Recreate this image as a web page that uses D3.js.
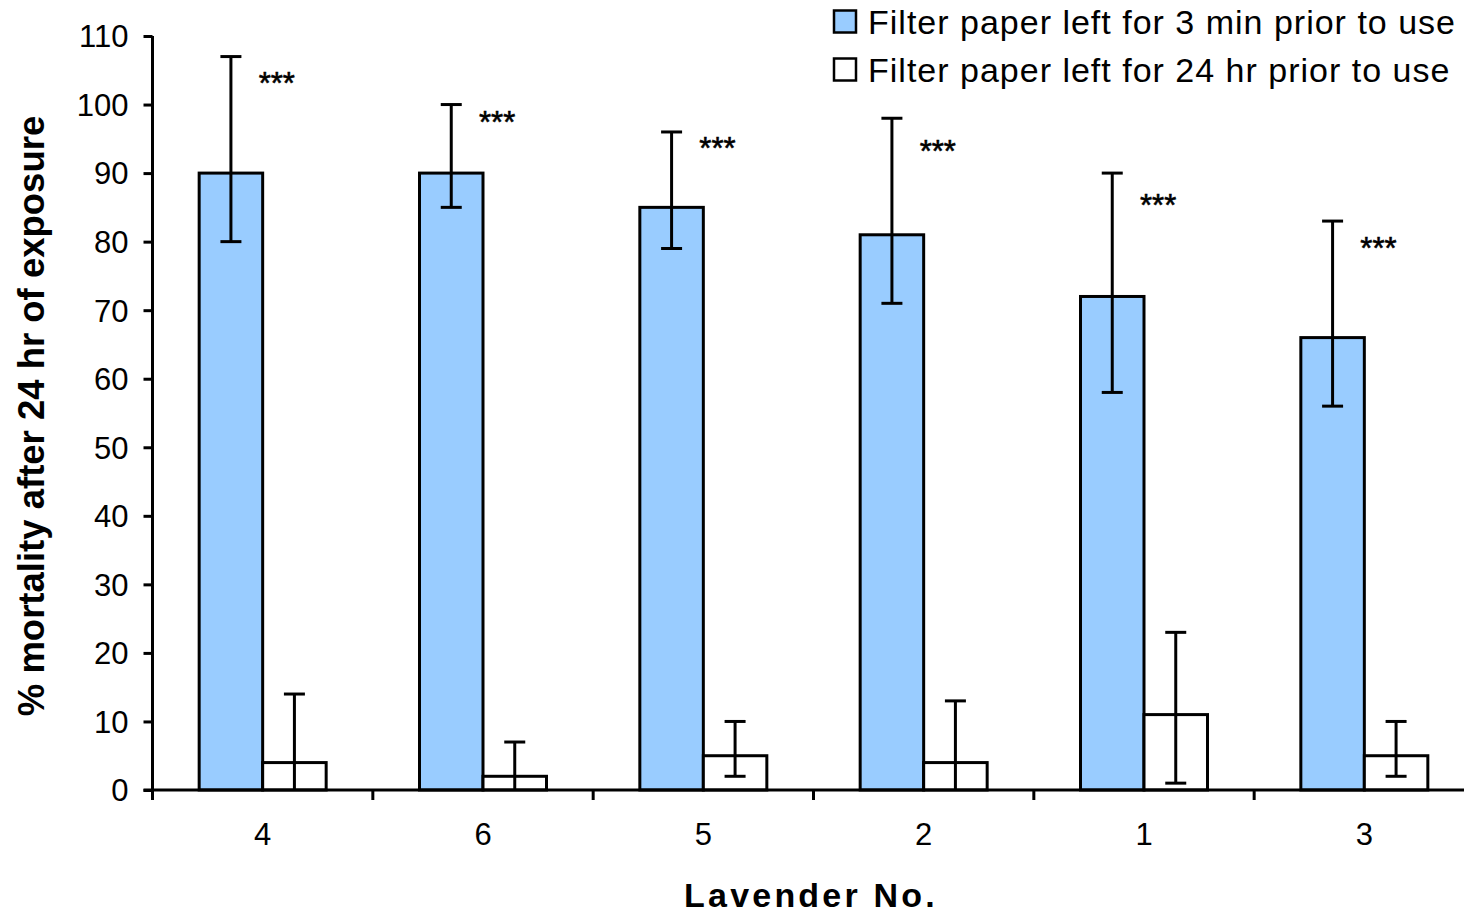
<!DOCTYPE html>
<html>
<head>
<meta charset="utf-8">
<script src="https://cdn.jsdelivr.net/npm/d3@7"></script>
<style>
  html, body { margin: 0; padding: 0; background: #fff; }
  svg { display: block; font-family: "Liberation Sans", Arial, sans-serif; }
</style>
</head>
<body>
<svg id="chart" width="1464" height="913"></svg>
<script>
// ---- data ----
const categories = ["4", "6", "5", "2", "1", "3"];
const seriesNames = ["Filter paper left for 3 min prior to use", "Filter paper left for 24 hr prior to use"];
const mean3min = [90, 90, 85, 81, 72, 66];
const low3min = [80, 85, 79, 71, 58, 56];
const high3min = [107, 100, 96, 98, 90, 83];
const mean24hr = [4, 2, 5, 4, 11, 5];
const low24hr = [-6, -3, 2, -5, 1, 2];
const high24hr = [14, 7, 10, 13, 23, 10];
const significance = ["***", "***", "***", "***", "***", "***"];
const sigLevel = [104, 98.4, 94.6, 94.2, 86.2, 80.0];
const yTicks = [0, 10, 20, 30, 40, 50, 60, 70, 80, 90, 100, 110];
const colors = ["#99CCFF", "#FFFFFF"];

// ---- layout ----
const svg = d3.select("#chart");
const plotLeft = 152.5, plotRight = 1474.5, plotTop = 36, plotBottom = 790;
const SW = 3;

const x = d3.scaleBand().domain(categories).range([plotLeft, plotRight]).paddingInner(0).paddingOuter(0);
const y = d3.scaleLinear().domain([0, 110]).range([plotBottom, plotTop]);
const groupW = 127;
const barW = groupW / 2;

const series = [
  { name: seriesNames[0], mean: mean3min, low: low3min, high: high3min, color: colors[0] },
  { name: seriesNames[1], mean: mean24hr, low: low24hr, high: high24hr, color: colors[1] }
];

// bars
series.forEach((s, si) => {
  const g = svg.append("g");
  g.selectAll("rect").data(categories).enter().append("rect")
    .attr("x", (c) => x(c) + (x.bandwidth() - groupW) / 2 + si * barW)
    .attr("y", (c, i) => y(s.mean[i]))
    .attr("width", barW)
    .attr("height", (c, i) => y(0) - y(s.mean[i]))
    .attr("fill", s.color)
    .attr("stroke", "#000")
    .attr("stroke-width", SW);
});

// error bars
const capHalf = 10.5;
series.forEach((s, si) => {
  const g = svg.append("g").attr("stroke", "#000").attr("stroke-width", SW);
  categories.forEach((c, i) => {
    const cx = x(c) + (x.bandwidth() - groupW) / 2 + si * barW + barW / 2;
    const lo = Math.max(0, s.low[i]);
    g.append("line").attr("x1", cx).attr("x2", cx).attr("y1", y(lo)).attr("y2", y(s.high[i]));
    g.append("line").attr("x1", cx - capHalf).attr("x2", cx + capHalf).attr("y1", y(s.high[i])).attr("y2", y(s.high[i]));
    if (s.low[i] >= 0) {
      g.append("line").attr("x1", cx - capHalf).attr("x2", cx + capHalf).attr("y1", y(s.low[i])).attr("y2", y(s.low[i]));
    }
  });
});

// significance stars
const starFs = 31;
svg.append("g").selectAll("text").data(categories).enter().append("text")
  .attr("x", (c) => x(c) + x.bandwidth() / 2 - 4)
  .attr("y", (c, i) => y(sigLevel[i]) + 0.56 * starFs)
  .attr("font-size", starFs)
  .attr("fill", "#000")
  .attr("stroke", "#000").attr("stroke-width", 0.6)
  .text((c, i) => significance[i]);

// y axis
const yAxis = d3.axisLeft(y).tickValues(yTicks).tickSize(9).tickSizeOuter(0).tickPadding(15);
const gy = svg.append("g").attr("transform", `translate(${plotLeft},0)`).call(yAxis);
gy.select(".domain").attr("stroke", "#000").attr("stroke-width", SW).attr("d", `M0,${plotTop}V${plotBottom + 10}`);
gy.selectAll(".tick line").attr("stroke", "#000").attr("stroke-width", SW);
gy.selectAll(".tick text").attr("font-size", 31).attr("font-family", "Liberation Sans, Arial, sans-serif").attr("fill", "#000").attr("dy", "0.35em");

// x axis (labels) + boundary ticks
const xAxis = d3.axisBottom(x).tickSize(0).tickPadding(0).tickSizeOuter(0);
const gx = svg.append("g").attr("transform", `translate(0,${plotBottom})`).call(xAxis);
gx.select(".domain").attr("stroke", "#000").attr("stroke-width", SW).attr("d", `M${plotLeft - 9},0H${plotRight}`);
gx.selectAll(".tick text").attr("font-size", 31).attr("font-family", "Liberation Sans, Arial, sans-serif")
  .attr("fill", "#000").attr("dy", null).attr("y", 55);
const boundaries = categories.map((c) => x(c)).concat([x.range()[1]]);
gx.append("g").selectAll("line").data(boundaries).enter().append("line")
  .attr("x1", (d) => d).attr("x2", (d) => d).attr("y1", 0).attr("y2", 10)
  .attr("stroke", "#000").attr("stroke-width", SW);

// axis titles
svg.append("text")
  .attr("transform", `translate(44,416) rotate(-90)`)
  .attr("text-anchor", "middle")
  .attr("font-size", 36.5).attr("font-weight", "bold").attr("fill", "#000")
  .text("% mortality after 24 hr of exposure");
svg.append("text")
  .attr("x", 811).attr("y", 907)
  .attr("text-anchor", "middle")
  .attr("font-size", 34).attr("font-weight", "bold").attr("letter-spacing", 3.2).attr("fill", "#000")
  .text("Lavender No.");

// legend
const legend = svg.append("g");
series.forEach((s, si) => {
  const ly = 10.5 + si * 48;
  legend.append("rect").attr("x", 834).attr("y", ly).attr("width", 22).attr("height", 22)
    .attr("fill", s.color).attr("stroke", "#000").attr("stroke-width", 2.5);
  legend.append("text").attr("x", 868).attr("y", ly + 23)
    .attr("font-size", 34).attr("fill", "#000").attr("letter-spacing", 1.0)
    .text(s.name);
});
</script>
</body>
</html>
